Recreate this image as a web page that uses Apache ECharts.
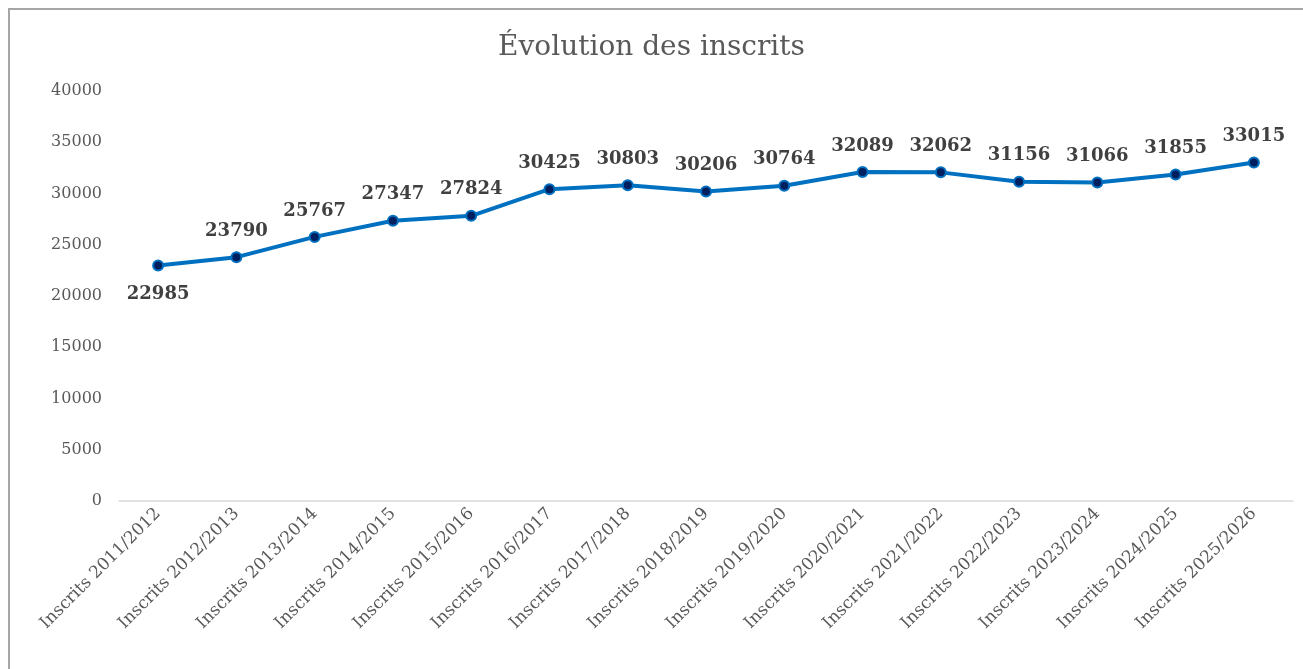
<!DOCTYPE html>
<html>
<head>
<meta charset="utf-8">
<script src="https://cdn.jsdelivr.net/npm/echarts@6/dist/echarts.min.js"></script>
<style>
  html, body { margin: 0; padding: 0; background: #fff; }
  #main { width: 1303px; height: 669px; }
</style>
</head>
<body>
<div id="main"></div>
<script>
// données du graphique
var categories = ['Inscrits 2011/2012', 'Inscrits 2012/2013', 'Inscrits 2013/2014', 'Inscrits 2014/2015',
  'Inscrits 2015/2016', 'Inscrits 2016/2017', 'Inscrits 2017/2018', 'Inscrits 2018/2019',
  'Inscrits 2019/2020', 'Inscrits 2020/2021', 'Inscrits 2021/2022', 'Inscrits 2022/2023',
  'Inscrits 2023/2024', 'Inscrits 2024/2025', 'Inscrits 2025/2026'];
var inscrits = [22985, 23790, 25767, 27347, 27824, 30425, 30803, 30206, 30764, 32089, 32062, 31156, 31066, 31855, 33015];

var fontFam = '"DejaVu Serif", serif';

var myChart = echarts.init(document.getElementById('main'));

var seriesData = inscrits.map(function (v, i) {
  // la première étiquette est placée sous le point
  if (i === 0) {
    return { value: v, label: { position: 'bottom', distance: 14 } };
  }
  return v;
});

var option = {
  backgroundColor: '#fff',
  animation: false,
  title: {
    text: 'Évolution des inscrits',
    left: 'center',
    top: 29,
    textStyle: { fontFamily: fontFam, fontWeight: 'normal', fontSize: 28, color: '#595959' }
  },
  graphic: [{
    type: 'rect',
    shape: { x: 9, y: 9, width: 1320, height: 700 },
    style: { fill: 'none', stroke: '#a6a6a6', lineWidth: 2 },
    silent: true
  }],
  grid: { left: 119, right: 10, top: 91, bottom: 168, containLabel: false },
  xAxis: {
    type: 'category',
    data: categories,
    axisLine: { lineStyle: { color: '#d9d9d9', width: 1.5 } },
    axisTick: { show: false },
    axisLabel: {
      interval: 0, rotate: 45, margin: 10,
      fontFamily: fontFam, fontSize: 17, color: '#595959'
    }
  },
  yAxis: {
    type: 'value',
    min: 0, max: 40000, interval: 5000,
    axisLine: { show: false },
    axisTick: { show: false },
    splitLine: { show: false },
    axisLabel: {
      margin: 17, fontFamily: fontFam, fontSize: 16, color: '#595959',
      formatter: function (v) { return String(v); }
    }
  },
  series: [{
    type: 'line',
    data: seriesData,
    symbol: 'circle',
    symbolSize: 10,
    lineStyle: { color: '#0070c0', width: 4 },
    itemStyle: { color: '#002060', borderColor: '#0070c0', borderWidth: 2 },
    label: {
      show: true,
      position: 'top',
      distance: 11,
      fontFamily: fontFam,
      fontWeight: 'bold',
      fontSize: 18,
      color: '#404040'
    }
  }]
};

myChart.setOption(option);
</script>
</body>
</html>
